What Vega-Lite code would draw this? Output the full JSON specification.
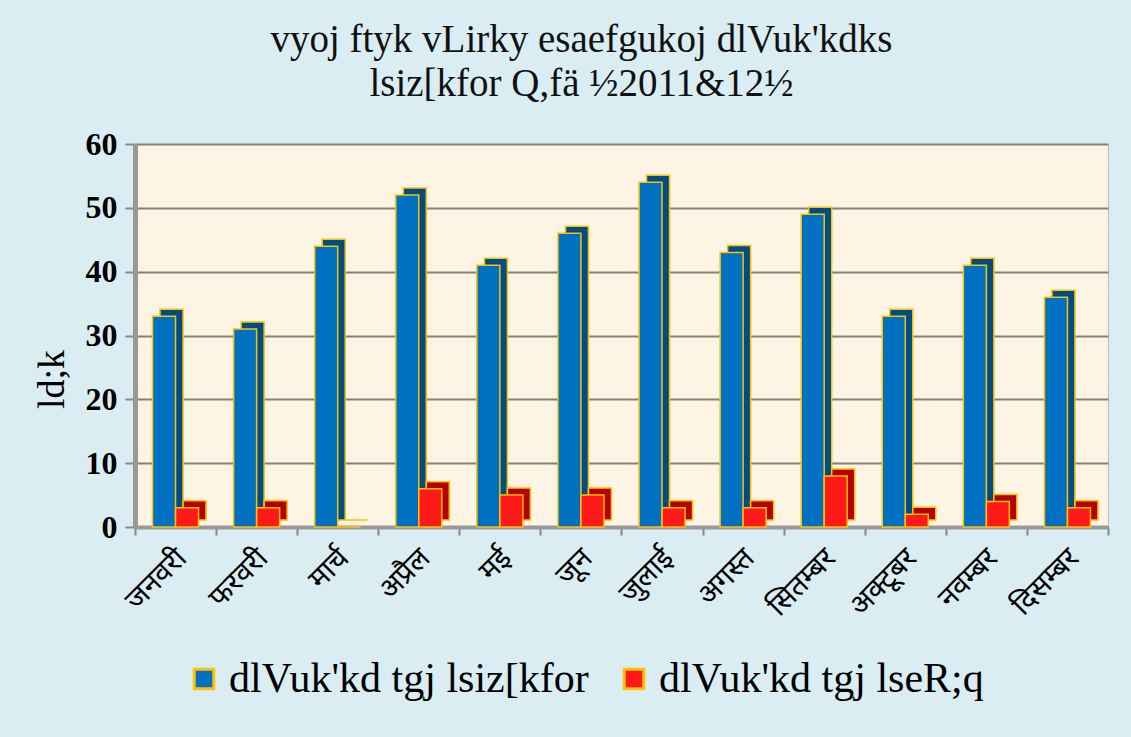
{
  "$schema": "https://vega.github.io/schema/vega-lite/v6.json",
  "width": 973,
  "height": 383,
  "autosize": "none",
  "padding": {"left": 135, "top": 144, "right": 23, "bottom": 210},
  "background": "#DAEDF3",
  "title": {
    "text": ["vyoj ftyk vLirky esaefgukoj dlVuk'kdks", "lsiz[kfor Q,fä ½2011&12½"],
    "anchor": "middle",
    "dx": -40,
    "offset": 24,
    "font": "Liberation Serif",
    "fontSize": 39,
    "fontWeight": "normal",
    "color": "#111",
    "lineHeight": 44
  },
  "data": {
    "values": [
      {"month": "जनवरी", "series": "dlVuk'kd tgj lsiz[kfor", "value": 33},
      {"month": "फरवरी", "series": "dlVuk'kd tgj lsiz[kfor", "value": 31},
      {"month": "मार्च", "series": "dlVuk'kd tgj lsiz[kfor", "value": 44},
      {"month": "अप्रैल", "series": "dlVuk'kd tgj lsiz[kfor", "value": 52},
      {"month": "मई", "series": "dlVuk'kd tgj lsiz[kfor", "value": 41},
      {"month": "जून", "series": "dlVuk'kd tgj lsiz[kfor", "value": 46},
      {"month": "जुलाई", "series": "dlVuk'kd tgj lsiz[kfor", "value": 54},
      {"month": "अगस्त", "series": "dlVuk'kd tgj lsiz[kfor", "value": 43},
      {"month": "सितम्बर", "series": "dlVuk'kd tgj lsiz[kfor", "value": 49},
      {"month": "अक्टूबर", "series": "dlVuk'kd tgj lsiz[kfor", "value": 33},
      {"month": "नवम्बर", "series": "dlVuk'kd tgj lsiz[kfor", "value": 41},
      {"month": "दिसम्बर", "series": "dlVuk'kd tgj lsiz[kfor", "value": 36},
      {"month": "जनवरी", "series": "dlVuk'kd tgj lseR;q", "value": 3},
      {"month": "फरवरी", "series": "dlVuk'kd tgj lseR;q", "value": 3},
      {"month": "मार्च", "series": "dlVuk'kd tgj lseR;q", "value": 0},
      {"month": "अप्रैल", "series": "dlVuk'kd tgj lseR;q", "value": 6},
      {"month": "मई", "series": "dlVuk'kd tgj lseR;q", "value": 5},
      {"month": "जून", "series": "dlVuk'kd tgj lseR;q", "value": 5},
      {"month": "जुलाई", "series": "dlVuk'kd tgj lseR;q", "value": 3},
      {"month": "अगस्त", "series": "dlVuk'kd tgj lseR;q", "value": 3},
      {"month": "सितम्बर", "series": "dlVuk'kd tgj lseR;q", "value": 8},
      {"month": "अक्टूबर", "series": "dlVuk'kd tgj lseR;q", "value": 2},
      {"month": "नवम्बर", "series": "dlVuk'kd tgj lseR;q", "value": 4},
      {"month": "दिसम्बर", "series": "dlVuk'kd tgj lseR;q", "value": 3}
    ]
  },
  "encoding": {
    "x": {
      "field": "month",
      "type": "nominal",
      "sort": null,
      "scale": {"paddingInner": 0, "paddingOuter": 0},
      "axis": {
        "title": null,
        "labelAngle": -45,
        "labelAlign": "right",
        "labelBaseline": "middle",
        "labelFontSize": 29,
        "labelColor": "#000",
        "labelPadding": 18,
        "labelOffset": 6,
        "tickBand": "extent",
        "tickSize": 8,
        "tickColor": "#888",
        "domainColor": "#999",
        "domainWidth": 4,
        "tickWidth": 2
      }
    },
    "y": {
      "field": "value",
      "type": "quantitative",
      "scale": {"domain": [0, 60]},
      "axis": {
        "title": "ld;k",
        "titleFont": "Liberation Serif",
        "titleFontSize": 38,
        "titleFontWeight": "normal",
        "titleColor": "#000",
        "titlePadding": 14,
        "titleY": 235,
        "values": [0, 10, 20, 30, 40, 50, 60],
        "labelFont": "Liberation Serif",
        "labelFontWeight": "bold",
        "labelFontSize": 32,
        "labelColor": "#000",
        "labelPadding": 8,
        "tickSize": 10,
        "tickWidth": 2,
        "tickColor": "#888",
        "domainColor": "#999",
        "domainWidth": 5,
        "gridColor": "#808080",
        "gridWidth": 2
      }
    }
  },
  "layer": [
    {
      "transform": [{"filter": "datum.series === \"dlVuk'kd tgj lsiz[kfor\""}],
      "mark": {"type": "bar", "fill": "#004C85", "stroke": "#FFC000", "strokeWidth": 1.5, "width": 23, "xOffset": -4, "yOffset": -7}
    },
    {
      "transform": [{"filter": "datum.series === \"dlVuk'kd tgj lsiz[kfor\""}],
      "mark": {"type": "bar", "stroke": "#FFC000", "strokeWidth": 1.5, "width": 23, "xOffset": -11.5},
      "encoding": {
        "color": {"field": "series", "type": "nominal",
          "scale": {"domain": ["dlVuk'kd tgj lsiz[kfor", "dlVuk'kd tgj lseR;q"], "range": ["#0070C0", "#FF1A1A"]}}
      }
    },
    {
      "transform": [{"filter": "datum.series === \"dlVuk'kd tgj lseR;q\""}],
      "mark": {"type": "bar", "fill": "#B30000", "stroke": "#FFC000", "strokeWidth": 1.5, "width": 23, "xOffset": 19, "yOffset": -7}
    },
    {
      "transform": [{"filter": "datum.series === \"dlVuk'kd tgj lseR;q\""}],
      "mark": {"type": "bar", "stroke": "#FFC000", "strokeWidth": 1.5, "width": 23, "xOffset": 11.5},
      "encoding": {
        "color": {
          "field": "series",
          "type": "nominal",
          "scale": {"domain": ["dlVuk'kd tgj lsiz[kfor", "dlVuk'kd tgj lseR;q"], "range": ["#0070C0", "#FF1A1A"]},
          "legend": {
            "title": null,
            "orient": "none",
            "direction": "horizontal",
            "legendX": 48,
            "legendY": 514,
            "symbolType": "square",
            "symbolSize": 380,
            "symbolStrokeColor": "#FFC000",
            "symbolStrokeWidth": 3,
            "symbolOpacity": 1,
            "labelFont": "Liberation Serif",
            "labelFontSize": 42,
            "labelColor": "#000",
            "labelLimit": 450,
            "columnPadding": 24,
            "labelOffset": 4
          }
        }
      }
    }
  ],
  "config": {
    "view": {"fill": "#FDF4E3", "stroke": "#bbb"},
    "axis": {"labelFont": "Noto Sans"}
  }
}
